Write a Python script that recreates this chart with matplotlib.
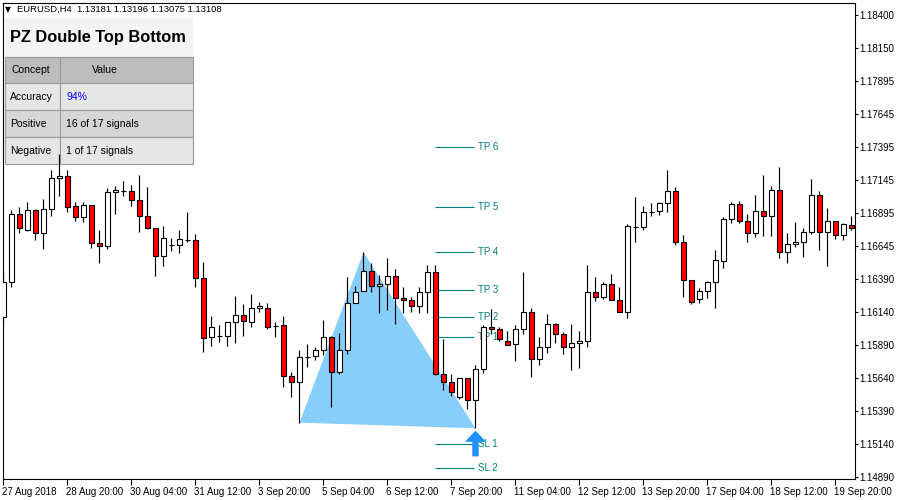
import matplotlib
matplotlib.use('Agg')
import matplotlib.pyplot as plt
import matplotlib.transforms as mtransforms
from matplotlib.patches import Rectangle
import numpy as np

plt.rcParams['font.family'] = ['Liberation Sans', 'DejaVu Sans']

# EURUSD H4 candles
opens = [1.16101, 1.16372, 1.16884, 1.16765, 1.16915, 1.16740, 1.16922, 1.17158, 1.17173, 1.16945,
         1.16861, 1.16953, 1.16664, 1.16646, 1.17052, 1.17062, 1.17059, 1.16991, 1.16869, 1.16778,
         1.16570, 1.16651, 1.16648, 1.16690, 1.16686, 1.16397, 1.15949, 1.15959, 1.15962, 1.16063,
         1.16116, 1.16063, 1.16169, 1.16169, 1.16035, 1.16040, 1.15652, 1.15612, 1.15800, 1.15804,
         1.15850, 1.15949, 1.15683, 1.15850, 1.16207, 1.16299, 1.16451, 1.16337, 1.16352, 1.16413,
         1.16245, 1.16230, 1.16185, 1.16291, 1.16443, 1.15667, 1.15612, 1.15498, 1.15637, 1.15472,
         1.15705, 1.16030, 1.16010, 1.15923, 1.15896, 1.16010, 1.16144, 1.15781, 1.15878, 1.16048,
         1.15972, 1.15873, 1.15903, 1.15921, 1.16291, 1.16253, 1.16352, 1.16230, 1.16139, 1.16788,
         1.16785, 1.16903, 1.16907, 1.16968, 1.17059, 1.16671, 1.16382, 1.16238, 1.16299, 1.16367,
         1.16527, 1.16846, 1.16963, 1.16831, 1.16740, 1.16907, 1.16869, 1.17067, 1.16595, 1.16656,
         1.16671, 1.16747, 1.17029, 1.16747, 1.16831, 1.16724, 1.16803]
highs = [1.16435, 1.16917, 1.16937, 1.16978, 1.16922, 1.17001, 1.17221, 1.17343, 1.17221, 1.16975,
         1.16975, 1.16958, 1.16765, 1.17082, 1.17100, 1.17135, 1.17107, 1.17183, 1.17092, 1.16783,
         1.16793, 1.16702, 1.16763, 1.16899, 1.16732, 1.16519, 1.16109, 1.16040, 1.16065, 1.16263,
         1.16202, 1.16278, 1.16215, 1.16210, 1.16063, 1.16109, 1.15683, 1.15852, 1.15898, 1.15875,
         1.16081, 1.15956, 1.15979, 1.16408, 1.16339, 1.16595, 1.16512, 1.16420, 1.16550, 1.16466,
         1.16329, 1.16253, 1.16329, 1.16496, 1.16499, 1.15936, 1.15670, 1.15637, 1.15640, 1.15738,
         1.16043, 1.16164, 1.16030, 1.15997, 1.16043, 1.16443, 1.16169, 1.15954, 1.16126, 1.16060,
         1.15987, 1.16048, 1.15997, 1.16496, 1.16408, 1.16367, 1.16428, 1.16332, 1.16808, 1.17016,
         1.16948, 1.16970, 1.16981, 1.17221, 1.17090, 1.16727, 1.16385, 1.16324, 1.16377, 1.16613,
         1.16861, 1.16981, 1.16986, 1.16889, 1.17031, 1.17183, 1.17097, 1.17244, 1.16740, 1.16823,
         1.16778, 1.17153, 1.17059, 1.16932, 1.16831, 1.16816, 1.16872]
lows = [1.16050, 1.16329, 1.16745, 1.16757, 1.16689, 1.16623, 1.16874, 1.17026, 1.16904, 1.16833,
        1.16828, 1.16631, 1.16517, 1.16618, 1.16889, 1.17021, 1.16950, 1.16752, 1.16770, 1.16418,
        1.16494, 1.16603, 1.16593, 1.16671, 1.16329, 1.15840, 1.15883, 1.15916, 1.15885, 1.15908,
        1.15962, 1.16030, 1.16139, 1.16015, 1.15954, 1.15574, 1.15498, 1.15300, 1.15726, 1.15774,
        1.15814, 1.15422, 1.15667, 1.15825, 1.16207, 1.16299, 1.16296, 1.16136, 1.16159, 1.16053,
        1.16136, 1.16144, 1.16136, 1.16136, 1.15660, 1.15548, 1.15505, 1.15477, 1.15401, 1.15257,
        1.15680, 1.15974, 1.15923, 1.15888, 1.15771, 1.15972, 1.15650, 1.15736, 1.15832, 1.15908,
        1.15825, 1.15698, 1.15718, 1.15873, 1.16228, 1.16243, 1.16230, 1.16144, 1.16093, 1.16676,
        1.16763, 1.16869, 1.16882, 1.16899, 1.16653, 1.16258, 1.16205, 1.16212, 1.16250, 1.16174,
        1.16474, 1.16816, 1.16816, 1.16671, 1.16714, 1.16722, 1.16722, 1.16550, 1.16517, 1.16633,
        1.16557, 1.16732, 1.16610, 1.16494, 1.16694, 1.16686, 1.16765]
closes = [1.16372, 1.16884, 1.16778, 1.16915, 1.16740, 1.16922, 1.17158, 1.17173, 1.16942, 1.16861,
          1.16953, 1.16664, 1.16646, 1.17052, 1.17067, 1.17062, 1.16991, 1.16869, 1.16778, 1.16570,
          1.16702, 1.16651, 1.16694, 1.16690, 1.16397, 1.15946, 1.16025, 1.15959, 1.16063, 1.16116,
          1.16070, 1.16169, 1.16185, 1.16030, 1.16035, 1.15652, 1.15612, 1.15797, 1.15800, 1.15850,
          1.15949, 1.15683, 1.15850, 1.16207, 1.16291, 1.16451, 1.16337, 1.16352, 1.16413, 1.16245,
          1.16230, 1.16185, 1.16291, 1.16443, 1.15667, 1.15612, 1.15530, 1.15637, 1.15472, 1.15705,
          1.16030, 1.16015, 1.15934, 1.15890, 1.16010, 1.16144, 1.15781, 1.15878, 1.16048, 1.15972,
          1.15873, 1.15903, 1.15921, 1.16291, 1.16253, 1.16352, 1.16230, 1.16144, 1.16793, 1.16788,
          1.16899, 1.16903, 1.16968, 1.17059, 1.16671, 1.16382, 1.16220, 1.16299, 1.16367, 1.16534,
          1.16846, 1.16963, 1.16831, 1.16740, 1.16907, 1.16869, 1.17067, 1.16595, 1.16656, 1.16671,
          1.16747, 1.17029, 1.16747, 1.16831, 1.16724, 1.16808, 1.16783]

date_ticks = ['27 Aug 2018', '28 Aug 20:00', '30 Aug 04:00', '31 Aug 12:00', '3 Sep 20:00',
              '5 Sep 04:00', '6 Sep 12:00', '7 Sep 20:00', '11 Sep 04:00', '12 Sep 12:00',
              '13 Sep 20:00', '17 Sep 04:00', '18 Sep 12:00', '19 Sep 20:00']
price_ticks = [1.18400, 1.18150, 1.17895, 1.17645, 1.17395, 1.17145, 1.16895, 1.16645,
               1.16390, 1.16140, 1.15890, 1.15640, 1.15390, 1.15140, 1.14890]

# pattern: bottom-left, top, bottom-right candles
pattern_bars = [37, 45, 59]
level_names = ['TP 6', 'TP 5', 'TP 4', 'TP 3', 'TP 2', 'TP 1', 'SL 1', 'SL 2']
level_prices = [1.17394, 1.16938, 1.16595, 1.16306, 1.16101, 1.15949, 1.15137, 1.14953]

table_rows = [('Accuracy', '94%'), ('Positive', '16 of 17 signals'), ('Negative', '1 of 17 signals')]

W, H = 900, 500
fig = plt.figure(figsize=(9, 5), dpi=100)
ax = fig.add_axes([2.7 / W, 21 / H, (855 - 2.7) / W, (479 - 2.7) / H])

o = np.array(opens); h = np.array(highs); l = np.array(lows); c = np.array(closes)
x = np.arange(len(o))
colors = np.where(c < o, '#FF0000', 'white')

ax.vlines(x, l, h, color='black', lw=0.85, zorder=4)
ax.bar(x, np.abs(c - o), bottom=np.minimum(o, c), width=0.56, color=colors,
       edgecolor='black', linewidth=0.8, zorder=5)

# triangle of the pattern
ax.fill(pattern_bars, [lows[37], highs[45], lows[59]], color='#87CEFA', lw=0, zorder=1)

# targets and stops
ax.hlines(level_prices, 53.95, 58.85, color='#008080', lw=0.8, zorder=2)
for name, p in zip(level_names, level_prices):
    ax.text(59.3, p, name, color='#008080', fontsize=7, va='center', ha='left', zorder=2)

# buy arrow under the last low
ax.annotate('', xy=(59, lows[59]), xytext=(0, -27.4), textcoords='offset pixels',
            arrowprops=dict(arrowstyle='simple,head_length=0.68,head_width=1.3,tail_width=0.36',
                            color='#1E90FF', shrinkA=0, shrinkB=2.45, mutation_scale=10),
            zorder=6)

ax.set_xlim(-0.1, 106.44)
ax.set_ylim(1.148715, 1.184935)

ax.set_xticks(range(0, 8 * len(date_ticks), 8))
ax.set_xticklabels(date_ticks)
ax.tick_params(axis='x', length=4, width=0.8, pad=2, labelsize=7, colors='black')
shift = mtransforms.ScaledTranslation(-1.5 / 100, 0, fig.dpi_scale_trans)
for lbl in ax.get_xticklabels():
    lbl.set_horizontalalignment('left')
    lbl.set_transform(lbl.get_transform() + shift)

ax.yaxis.tick_right()
ax.set_yticks(price_ticks)
ax.set_yticklabels(['%.5f' % p for p in price_ticks])
ax.tick_params(axis='y', length=2, width=0.8, pad=1, labelsize=7)
for s in ax.spines.values():
    s.set_linewidth(0.8)

# info table (pixel coords)
tf = fig.transFigure
def box(x0, y0, x1, y1, fc, ec='none'):
    ax.add_patch(Rectangle((x0 / W, 1 - y1 / H), (x1 - x0) / W, (y1 - y0) / H,
                           transform=tf, facecolor=fc, edgecolor=ec, lw=0.8, zorder=2))

def txt(xp, yp, s, **kw):
    ax.text(xp / W, 1 - yp / H, s, transform=tf, va='center', ha='left', zorder=3, **kw)

box(5, 18.3, 192.7, 56.7, '#F4F4F4')
txt(10, 37.5, 'PZ Double Top Bottom', fontsize=11.8, fontweight='bold')
row_fc = ['#E6E6E6', '#D6D6D6', '#E6E6E6']
box(5, 56.7, 60.3, 83.3, '#BDBDBD', '#9A9A9A')
box(60.3, 56.7, 192.7, 83.3, '#BDBDBD', '#9A9A9A')
txt(11.5, 70, 'Concept', fontsize=7.5)
txt(91.5, 70, 'Value', fontsize=7.5)
for i, (name, val) in enumerate(table_rows):
    y0 = 83.3 + 27 * i
    box(5, y0, 60.3, y0 + 27, row_fc[i], '#9A9A9A')
    box(60.3, y0, 192.7, y0 + 27, row_fc[i], '#9A9A9A')
    txt(9.7, y0 + 13.5, name, fontsize=7.5)
    txt(66.5, y0 + 13.5, val, fontsize=7.5, color='#0000FF' if i == 0 else 'black')

fig.text(5 / W, 1 - 9.5 / H, '\u25bc', fontsize=5.5, family='DejaVu Sans', va='center')
fig.text(17 / W, 1 - 9.5 / H, 'EURUSD,H4  1.13181 1.13196 1.13075 1.13108', fontsize=6.8, va='center')

fig.savefig('out.png', dpi=100)
